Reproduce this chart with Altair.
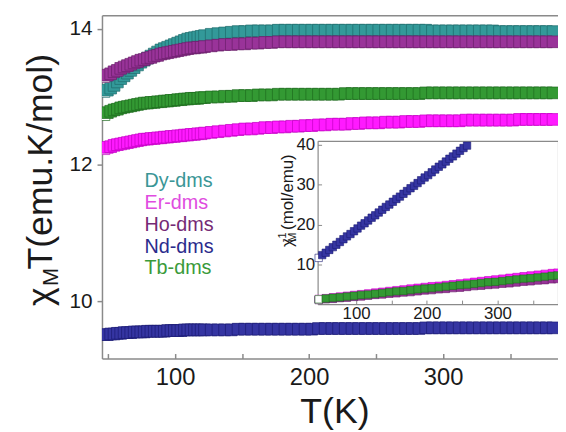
import altair as alt
import pandas as pd

# ---------------- data ----------------
T = [47, 49.5, 52, 54.5, 57, 59.5, 62, 64.5, 67, 69.5,
     72, 74.5, 77, 79.5, 82, 84.5, 87, 89.5, 92, 94.5,
     97, 99.5, 102, 104.5, 107, 109.5, 112, 114.5, 117, 119.5,
     122, 127, 132, 137, 142, 147, 152, 157, 162, 167,
     172, 177, 182, 187, 192, 197, 202, 207, 212, 217,
     222, 227, 232, 237, 242, 247, 252, 257, 262, 267,
     272, 277, 282, 287, 292, 297, 302, 307, 312, 317,
     322, 327, 332, 337, 342, 347, 352, 357, 362, 367,
     372, 377, 382]

dy = [13.08, 13.10, 13.13, 13.17, 13.22, 13.27, 13.31, 13.35, 13.39, 13.43,
      13.47, 13.51, 13.54, 13.57, 13.60, 13.63, 13.66, 13.69, 13.71, 13.73,
      13.75, 13.77, 13.79, 13.81, 13.83, 13.85, 13.86, 13.87, 13.88, 13.89,
      13.90, 13.92, 13.93, 13.94, 13.95, 13.96, 13.96, 13.97, 13.97, 13.97,
      13.97, 13.98, 13.98, 13.98, 13.98, 13.98, 13.98, 13.98, 13.98, 13.98,
      13.98, 13.98, 13.98, 13.98, 13.98, 13.98, 13.98, 13.98, 13.98, 13.98,
      13.98, 13.98, 13.98, 13.98, 13.97, 13.97, 13.97, 13.97, 13.97, 13.97,
      13.97, 13.97, 13.97, 13.97, 13.96, 13.96, 13.96, 13.96, 13.96, 13.96,
      13.96, 13.96, 13.96]

er = [12.24, 12.26, 12.27, 12.29, 12.30, 12.31, 12.32, 12.33, 12.34, 12.35,
      12.36, 12.37, 12.38, 12.38, 12.39, 12.39, 12.40, 12.40, 12.41, 12.41,
      12.42, 12.42, 12.43, 12.43, 12.44, 12.44, 12.45, 12.45, 12.46, 12.46,
      12.47, 12.48, 12.49, 12.50, 12.51, 12.52, 12.53, 12.53, 12.54, 12.55,
      12.55, 12.56, 12.56, 12.57, 12.57, 12.58, 12.58, 12.59, 12.59, 12.60,
      12.60, 12.60, 12.61, 12.61, 12.62, 12.62, 12.62, 12.63, 12.63, 12.63,
      12.64, 12.64, 12.64, 12.65, 12.65, 12.65, 12.65, 12.65, 12.65, 12.66,
      12.66, 12.66, 12.66, 12.66, 12.66, 12.66, 12.66, 12.67, 12.67, 12.67,
      12.67, 12.67, 12.67]

ho = [13.30, 13.32, 13.34, 13.37, 13.39, 13.42, 13.44, 13.46, 13.48, 13.50,
      13.52, 13.54, 13.55, 13.57, 13.58, 13.60, 13.61, 13.63, 13.64, 13.65,
      13.66, 13.67, 13.68, 13.69, 13.70, 13.71, 13.72, 13.72, 13.73, 13.73,
      13.74, 13.75, 13.76, 13.77, 13.77, 13.78, 13.78, 13.79, 13.79, 13.80,
      13.80, 13.81, 13.81, 13.81, 13.81, 13.81, 13.81, 13.81, 13.81, 13.81,
      13.81, 13.81, 13.81, 13.81, 13.81, 13.81, 13.81, 13.81, 13.81, 13.81,
      13.81, 13.81, 13.81, 13.81, 13.81, 13.81, 13.81, 13.81, 13.81, 13.81,
      13.81, 13.81, 13.81, 13.81, 13.81, 13.81, 13.81, 13.81, 13.81, 13.81,
      13.81, 13.81, 13.81]

nd = [9.51, 9.51, 9.52, 9.52, 9.53, 9.53, 9.54, 9.54, 9.54, 9.55,
      9.55, 9.55, 9.55, 9.56, 9.56, 9.56, 9.56, 9.56, 9.56, 9.57,
      9.57, 9.57, 9.57, 9.57, 9.58, 9.58, 9.58, 9.58, 9.58, 9.58,
      9.58, 9.58, 9.58, 9.58, 9.58, 9.59, 9.59, 9.59, 9.59, 9.59,
      9.59, 9.59, 9.59, 9.59, 9.59, 9.59, 9.59, 9.60, 9.60, 9.60,
      9.60, 9.60, 9.60, 9.60, 9.60, 9.60, 9.60, 9.60, 9.60, 9.60,
      9.60, 9.60, 9.60, 9.61, 9.61, 9.61, 9.61, 9.61, 9.61, 9.61,
      9.61, 9.61, 9.61, 9.61, 9.61, 9.61, 9.61, 9.61, 9.61, 9.61,
      9.61, 9.61, 9.61]

tb = [12.74, 12.77, 12.79, 12.81, 12.82, 12.84, 12.85, 12.86, 12.87, 12.88,
      12.89, 12.90, 12.91, 12.91, 12.92, 12.92, 12.93, 12.93, 12.94, 12.94,
      12.95, 12.95, 12.96, 12.96, 12.97, 12.97, 12.98, 12.98, 12.98, 12.99,
      12.99, 13.00, 13.00, 13.01, 13.01, 13.02, 13.02, 13.02, 13.03, 13.03,
      13.03, 13.04, 13.04, 13.04, 13.04, 13.04, 13.04, 13.04, 13.04, 13.04,
      13.04, 13.05, 13.05, 13.05, 13.05, 13.05, 13.05, 13.05, 13.05, 13.05,
      13.05, 13.05, 13.05, 13.06, 13.06, 13.06, 13.06, 13.06, 13.06, 13.06,
      13.06, 13.06, 13.06, 13.06, 13.06, 13.06, 13.06, 13.06, 13.06, 13.06,
      13.06, 13.06, 13.06]

# inset: 1/chi_M (mol/emu)
T_in = [47, 57, 67, 77, 87, 97, 107, 117, 127, 137,
        147, 157, 167, 177, 187, 197, 207, 217, 227, 237,
        247, 257, 267, 277, 287, 297, 307, 317, 327, 337,
        347, 357, 367, 377, 385]

dy_inv = [1.1, 1.3, 1.4, 1.6, 1.8, 1.9, 2.1, 2.3, 2.5, 2.6,
          2.8, 3.0, 3.1, 3.3, 3.5, 3.6, 3.8, 4.0, 4.1, 4.3,
          4.5, 4.6, 4.8, 5.0, 5.2, 5.3, 5.5, 5.7, 5.8, 6.0,
          6.2, 6.3, 6.5, 6.7, 6.8]
er_inv = [1.3, 1.5, 1.7, 1.9, 2.1, 2.3, 2.5, 2.7, 2.9, 3.1,
          3.3, 3.5, 3.7, 3.9, 4.1, 4.3, 4.5, 4.6, 4.8, 5.0,
          5.2, 5.4, 5.6, 5.8, 6.0, 6.2, 6.4, 6.6, 6.8, 7.0,
          7.2, 7.4, 7.6, 7.8, 7.9]
ho_inv = [1.0, 1.2, 1.3, 1.5, 1.6, 1.8, 1.9, 2.1, 2.3, 2.4,
          2.6, 2.7, 2.9, 3.0, 3.2, 3.4, 3.5, 3.7, 3.8, 4.0,
          4.1, 4.3, 4.5, 4.6, 4.8, 4.9, 5.1, 5.2, 5.4, 5.6,
          5.7, 5.9, 6.0, 6.2, 6.3]
tb_inv = [1.2, 1.4, 1.6, 1.7, 1.9, 2.1, 2.3, 2.4, 2.6, 2.8,
          3.0, 3.2, 3.3, 3.5, 3.7, 3.9, 4.0, 4.2, 4.4, 4.6,
          4.8, 4.9, 5.1, 5.3, 5.5, 5.6, 5.8, 6.0, 6.2, 6.4,
          6.5, 6.7, 6.9, 7.1, 7.2]

T_nd_in = [47, 52, 57, 62, 67, 72, 77, 82, 87, 92,
           97, 102, 107, 112, 117, 122, 127, 132, 137, 142,
           147, 152, 157, 162, 167, 172, 177, 182, 187, 192,
           197, 202, 207, 212, 217, 222, 227, 232, 237, 242,
           247, 252, 257]
nd_inv = [11.6, 12.3, 12.9, 13.6, 14.3, 14.9, 15.6, 16.3, 17.0, 17.6,
          18.3, 19.0, 19.7, 20.3, 21.0, 21.7, 22.3, 23.0, 23.7, 24.4,
          25.0, 25.7, 26.4, 27.0, 27.7, 28.4, 29.1, 29.7, 30.4, 31.1,
          31.8, 32.4, 33.1, 33.8, 34.5, 35.1, 35.8, 36.5, 37.1, 37.8,
          38.5, 39.2, 39.8]

names = ["Dy-dms", "Er-dms", "Ho-dms", "Nd-dms", "Tb-dms"]
fill_colors = ["#339999", "#ff1aff", "#993399", "#3535a2", "#339933"]
stroke_colors = ["#1f6b6b", "#c200c2", "#6a1f6a", "#1c1c74", "#1f6b1f"]
label_colors = ["#3a9696", "#e04ce0", "#752a75", "#2b2b8c", "#3a9a3a"]

x_ticks_main = [100, 200, 300]
x_ticks_minor = [50, 100, 150, 200, 250, 300, 350]
y_ticks_main = [10, 12, 14]
y_ticks_inset = [10, 20, 30, 40]

for s in (dy, er, ho, nd, tb):
    assert len(s) == len(T)
for s in (dy_inv, er_inv, ho_inv, tb_inv):
    assert len(s) == len(T_in)
assert len(nd_inv) == len(T_nd_in)

main_rows = []
for n, vals in zip(names, [dy, er, ho, nd, tb]):
    for t, v in zip(T, vals):
        main_rows.append({"series": n, "T": t, "v": v})
main_df = pd.DataFrame(main_rows)

inset_rows = []
inset_sets = [(T_in, dy_inv), (T_in, er_inv), (T_in, ho_inv), (T_nd_in, nd_inv), (T_in, tb_inv)]
for n, (ts, vals) in zip(names, inset_sets):
    for t, v in zip(ts, vals):
        inset_rows.append({"series": n, "T": t, "v": v})
inset_df = pd.DataFrame(inset_rows)

# ---------------- layout ----------------
W, H = 461, 347
FONT = "Liberation Sans"
AX = "#8a8a8a"
TXT = "#1a1a1a"

xs_main = alt.Scale(domain=[45.5, 385.7], nice=False, zero=False)
ys_main = alt.Scale(domain=[9.16, 14.2], nice=False, zero=False)
xs_in = alt.Scale(domain=[45.5, 385.7], range=[218, W], nice=False, zero=False)
ys_in = alt.Scale(domain=[0, 41], range=[292, 127], nice=False, zero=False)

label_expr = " : ".join(
    f"datum.label == '{n}' ? '{c}'" for n, c in zip(names, label_colors)
) + " : 'black'"

legend = alt.Legend(
    title=None, orient="none", legendX=23, legendY=158,
    symbolSize=0, symbolOpacity=0, symbolStrokeWidth=0,
    labelFontSize=20, labelFont=FONT, labelOffset=0, rowPadding=2,
    padding=0, labelColor={"expr": label_expr},
)

def fill_enc():
    return alt.condition(
        "datum.T == 47",
        alt.value("white"),
        alt.Fill("series:N", scale=alt.Scale(domain=names, range=fill_colors), legend=legend),
    )

stroke_enc = alt.Stroke("series:N", scale=alt.Scale(domain=names, range=stroke_colors), legend=None)

# main data + bottom/left axes
L1 = alt.Chart(main_df).mark_point(
    shape="square", filled=True, size=140, strokeWidth=0.7, opacity=1, clip=True
).encode(
    x=alt.X("T:Q", scale=xs_main, axis=alt.Axis(
        orient="bottom", values=x_ticks_main, ticks=False, tickSize=0,
        labelFontSize=24, labelPadding=7, labelColor=TXT,
        domainColor=AX, domainWidth=1.5,
        title="T(K)", titleFontSize=36, titleFontWeight="normal", titleColor=TXT,
        titleX=235, titleY=65, titleAlign="center", titleBaseline="alphabetic")),
    y=alt.Y("v:Q", scale=ys_main, axis=alt.Axis(
        orient="left", values=y_ticks_main, tickSize=5, tickColor=AX, tickWidth=1.5,
        labelFontSize=21, labelPadding=5, labelColor=TXT,
        domainColor=AX, domainWidth=1.5,
        title="χ\u2002T(emu.K/mol)", titleFontSize=36, titleFontWeight="normal",
        titleColor=TXT, titleAngle=270, titleX=-51, titleY=166,
        titleAlign="center", titleBaseline="alphabetic")),
    fill=fill_enc(),
    stroke=stroke_enc,
)

# top frame + subscript of the y title
L2 = alt.Chart(main_df).mark_point(opacity=0).encode(
    x=alt.X("T:Q", scale=xs_main, axis=alt.Axis(
        orient="top", labels=False, ticks=False, domainColor=AX, domainWidth=1.5, title=None)),
    y=alt.Y("v:Q", scale=ys_main, axis=alt.Axis(
        orient="left", labels=False, ticks=False, domain=False,
        title="M", titleFontSize=22, titleFontWeight="normal", titleColor=TXT,
        titleAngle=270, titleX=-45, titleY=264,
        titleAlign="center", titleBaseline="alphabetic")),
)

# inward ticks on the bottom axis
L3 = alt.Chart(main_df).mark_point(opacity=0).encode(
    x=alt.X("T:Q", scale=xs_main, axis=alt.Axis(
        orient="top", offset=-H, values=x_ticks_minor, labels=False, domain=False,
        tickSize=5, tickColor=AX, tickWidth=1.5, title=None)),
    y=alt.Y("v:Q", scale=ys_main, axis=None),
)

# inset data + its bottom/left axes
I1 = alt.Chart(inset_df).mark_point(
    shape="square", filled=True, size=56, strokeWidth=0.6, opacity=1, clip=True
).encode(
    x=alt.X("T:Q", scale=xs_in, axis=alt.Axis(
        orient="bottom", offset=-(H - 292), values=x_ticks_main, ticks=False, tickSize=0,
        labelFontSize=17, labelPadding=2, labelColor=TXT,
        domainColor=AX, domainWidth=1.2, title=None)),
    y=alt.Y("v:Q", scale=ys_in, axis=alt.Axis(
        orient="left", offset=-218, values=y_ticks_inset, ticks=False, tickSize=0,
        labelFontSize=17, labelPadding=3, labelColor=TXT,
        domainColor=AX, domainWidth=1.2,
        title="χ\u2002(mol/emu)", titleFontSize=17, titleFontWeight="normal",
        titleColor=TXT, titleAngle=270, titleX=-25, titleY=187,
        titleAlign="center", titleBaseline="alphabetic")),
    fill=fill_enc(),
    stroke=stroke_enc,
)

# inset top and right frame + subscript M
I2 = alt.Chart(inset_df).mark_point(opacity=0).encode(
    x=alt.X("T:Q", scale=xs_in, axis=alt.Axis(
        orient="top", offset=-127, labels=False, ticks=False,
        domainColor=AX, domainWidth=1.2, title=None)),
    y=alt.Y("v:Q", scale=ys_in, axis=alt.Axis(
        orient="right", offset=0, labels=False, ticks=False,
        domainColor=AX, domainWidth=1.2,
        title="M", titleFontSize=11, titleFontWeight="normal", titleColor=TXT,
        titleAngle=270, titleX=-265, titleY=224,
        titleAlign="center", titleBaseline="alphabetic")),
)

# inset inward ticks + superscript -1
I3 = alt.Chart(inset_df).mark_point(opacity=0).encode(
    x=alt.X("T:Q", scale=xs_in, axis=alt.Axis(
        orient="top", offset=-292, values=x_ticks_minor, labels=False, domain=False,
        tickSize=4, tickColor=AX, tickWidth=1, title=None)),
    y=alt.Y("v:Q", scale=ys_in, axis=alt.Axis(
        orient="right", offset=-(W - 218), values=y_ticks_inset, labels=False, domain=False,
        tickSize=4, tickColor=AX, tickWidth=1,
        title="-1", titleFontSize=11, titleFontWeight="normal", titleColor=TXT,
        titleAngle=270, titleX=-32, titleY=224,
        titleAlign="center", titleBaseline="alphabetic")),
)

chart = alt.layer(L1, L2, L3, I1, I2, I3).resolve_scale(
    x="independent", y="independent"
).resolve_axis(
    x="independent", y="independent"
).properties(
    width=W, height=H,
    autosize=alt.AutoSizeParams(type="none"),
    padding={"left": 95, "top": 5, "right": 0, "bottom": 72},
    background="white",
).configure_view(
    stroke=None
).configure_axis(
    grid=False, labelFont=FONT, titleFont=FONT
)

chart.save("out.html", embed_options={"renderer": "svg", "actions": False})
